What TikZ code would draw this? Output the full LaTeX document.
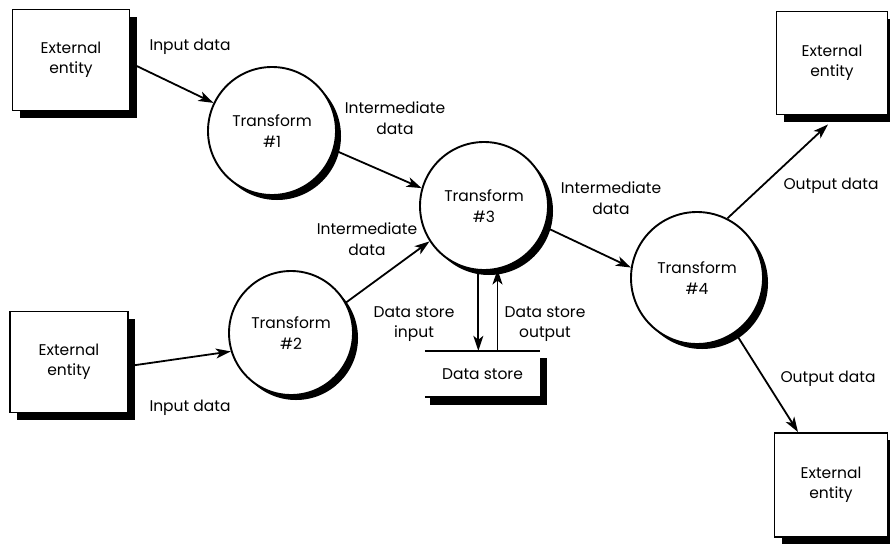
\documentclass[tikz,border=0pt]{standalone}
\usepackage{fontspec}
\setmainfont{Poppins}
\usetikzlibrary{arrows.meta,shadows}
\begin{document}
\begin{tikzpicture}[x=1pt,y=-1pt,
  font=\fontsize{15.5}{20.5}\selectfont,
  entity/.style={draw, line width=1.9pt, fill=white, align=center, inner sep=0pt,
    general shadow={shadow xshift=7pt, shadow yshift=-7pt, fill=black}},
  process/.style={circle, draw, line width=1.9pt, fill=white, align=center, inner sep=0pt,
    general shadow={shadow xshift=5pt, shadow yshift=-5pt, fill=black}},
  flow/.style={line width=1.8pt, -{Stealth[length=15pt,width=10pt,inset=4pt]}},
  lbl/.style={align=center, inner sep=0pt}]

\path[use as bounding box, fill=white] (0,0) rectangle (890,546);

% external entities
\node[entity, minimum width=117pt, minimum height=101pt] (e1) at (71,60)   {External\\entity};
\node[entity, minimum width=118pt, minimum height=101pt] (e2) at (69,362)  {External\\entity};
\node[entity, minimum width=111pt, minimum height=103pt] (e3) at (832,63)  {External\\entity};
\node[entity, minimum width=113pt, minimum height=104pt] (e4) at (831,485) {External\\entity};

% transforms
\node[process, minimum size=128pt] (t1) at (272,131) {Transform\\\#1};
\node[process, minimum size=124pt] (t2) at (291,333) {Transform\\\#2};
\node[process, minimum size=128pt] (t3) at (484,206) {Transform\\\#3};
\node[process, minimum size=132pt] (t4) at (697,278) {Transform\\\#4};

% data store
\node[lbl, minimum width=115pt, minimum height=46pt] (ds) at (482.5,374) {Data store};
\draw[line width=1.9pt] (ds.north west) -- (ds.north east);
\draw[line width=1.9pt] (ds.south west) -- (ds.south east);
\fill ([xshift=5pt]ds.south west) rectangle ([xshift=7pt,yshift=-8pt]ds.south east);
\fill ([yshift=-7pt]ds.north east) rectangle ([xshift=7pt,yshift=-8pt]ds.south east);

% data flows
\draw[flow] ([yshift=-3pt]e1.east) -- (t1);
\draw[flow] (t1.-17) -- (t3.164);
\draw[flow] ([yshift=-4pt]e2.east) -- (t2.197);
\draw[flow] (t2.29) -- (t3.213);
\draw[flow] (t3.-19) -- (t4.171);
\draw[flow] (t3.-95) -- (t3.-95 |- ds.north);
\draw[flow] (t3.-78 |- ds.north) -- (t3.-78);
\draw[flow] (t4.63) -- ([xshift=-4pt,yshift=-9pt]e3.south);
\draw[flow] (t4.-55) -- ([xshift=-33pt]e4.north);

% flow labels
\node[lbl] (l1) at (190,47)  {Input data};
\node[lbl] (l2) at (395,118) {Intermediate\\data};
\node[lbl] (l3) at (190,408) {Input data};
\node[lbl] (l4) at (367,239) {Intermediate\\data};
\node[lbl] (l5) at (611,198) {Intermediate\\data};
\node[lbl] (l6) at (414,324) {Data store\\input};
\node[lbl] (l7) at (545,324) {Data store\\output};
\node[lbl] (l8) at (831,186) {Output data};
\node[lbl] (l9) at (828,379) {Output data};
\end{tikzpicture}
\end{document}
